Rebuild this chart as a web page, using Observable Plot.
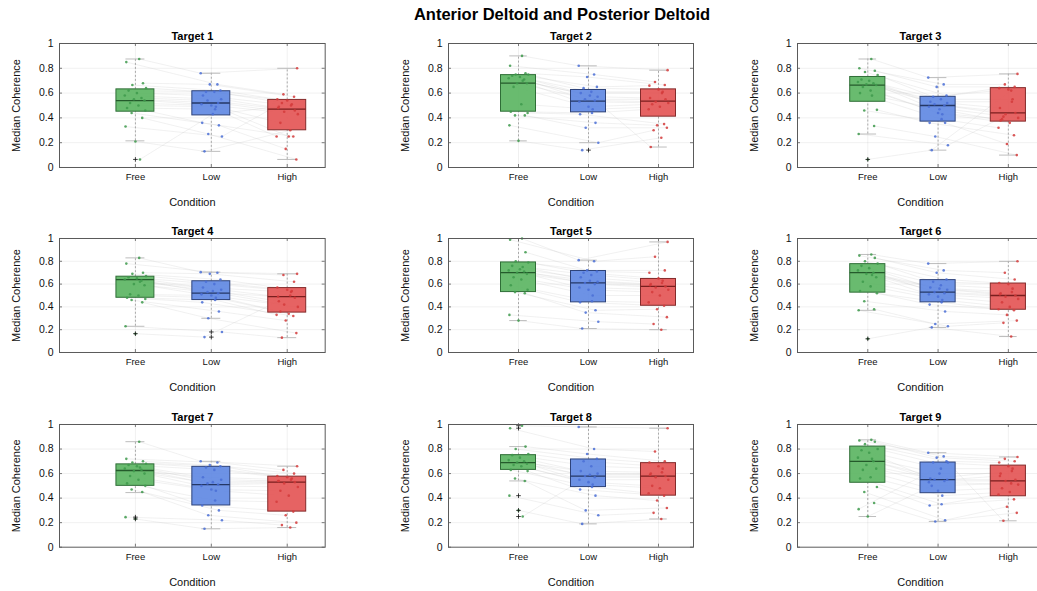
<!DOCTYPE html>
<html><head><meta charset="utf-8">
<script src="https://cdn.jsdelivr.net/npm/d3@7"></script>
<script src="https://cdn.jsdelivr.net/npm/@observablehq/plot@0.6"></script>
<style>
html,body{margin:0;padding:0;background:#fff;overflow:hidden}
#fig{position:relative;width:1037px;height:591px;overflow:hidden;background:#fff;font-family:"Liberation Sans",Arial,Helvetica,sans-serif}
#title{position:absolute;top:5px;left:562px;transform:translateX(-50%);font-weight:bold;font-size:16.5px;white-space:nowrap;color:#000}
#fig svg{position:absolute}
</style></head><body>
<div id="fig"><div id="title">Anterior Deltoid and Posterior Deltoid</div></div>
<script>
const conditions = ["Free", "Low", "High"];
const targets = ["Target 1","Target 2","Target 3","Target 4","Target 5","Target 6","Target 7","Target 8","Target 9"];
const yTicks = [0, 0.2, 0.4, 0.6, 0.8, 1];

// per-subject median coherence (20 subjects), one row per target
const freeValues = [
  [0.875,0.85,0.68,0.665,0.64,0.62,0.60,0.58,0.56,0.55,0.54,0.52,0.50,0.48,0.46,0.44,0.40,0.33,0.21,0.065],
  [0.90,0.82,0.76,0.75,0.75,0.74,0.73,0.72,0.71,0.68,0.68,0.65,0.51,0.45,0.44,0.42,0.42,0.34,0.215,0.70],
  [0.875,0.80,0.78,0.77,0.745,0.71,0.70,0.69,0.68,0.67,0.665,0.65,0.62,0.60,0.465,0.46,0.335,0.27,0.065,0.58],
  [0.83,0.78,0.70,0.69,0.67,0.66,0.65,0.64,0.63,0.60,0.59,0.51,0.50,0.48,0.47,0.46,0.44,0.23,0.165,0.62],
  [1.0,0.99,0.88,0.80,0.79,0.76,0.73,0.72,0.71,0.70,0.69,0.66,0.64,0.59,0.55,0.53,0.52,0.33,0.28,0.75],
  [0.86,0.85,0.83,0.80,0.78,0.76,0.74,0.72,0.70,0.69,0.66,0.62,0.58,0.54,0.52,0.45,0.38,0.37,0.12,0.68],
  [0.86,0.72,0.70,0.69,0.68,0.67,0.66,0.64,0.63,0.62,0.60,0.58,0.55,0.52,0.50,0.47,0.45,0.245,0.23,0.65],
  [0.99,0.97,0.82,0.80,0.76,0.75,0.73,0.71,0.70,0.69,0.68,0.67,0.66,0.63,0.62,0.56,0.54,0.42,0.30,0.25],
  [0.875,0.87,0.86,0.84,0.80,0.79,0.77,0.73,0.70,0.67,0.64,0.63,0.57,0.56,0.49,0.45,0.36,0.31,0.25,0.72]
];
const lowValues = [
  [0.76,0.67,0.67,0.62,0.61,0.61,0.58,0.55,0.54,0.52,0.51,0.50,0.49,0.47,0.36,0.34,0.27,0.25,0.13,0.43],
  [0.82,0.75,0.73,0.65,0.64,0.61,0.60,0.57,0.55,0.54,0.53,0.49,0.47,0.44,0.43,0.36,0.32,0.20,0.14,0.58],
  [0.725,0.67,0.65,0.58,0.57,0.55,0.53,0.52,0.51,0.50,0.49,0.44,0.43,0.39,0.36,0.36,0.25,0.18,0.14,0.47],
  [0.705,0.70,0.69,0.64,0.62,0.60,0.57,0.55,0.53,0.52,0.51,0.50,0.48,0.46,0.44,0.36,0.30,0.18,0.135,0.54],
  [0.81,0.80,0.72,0.71,0.70,0.68,0.66,0.62,0.61,0.60,0.57,0.55,0.50,0.45,0.44,0.37,0.35,0.27,0.21,0.63],
  [0.78,0.72,0.70,0.64,0.62,0.59,0.57,0.55,0.53,0.52,0.51,0.49,0.46,0.44,0.42,0.36,0.25,0.23,0.22,0.56],
  [0.70,0.69,0.67,0.66,0.65,0.63,0.57,0.55,0.52,0.51,0.50,0.47,0.46,0.38,0.34,0.30,0.26,0.22,0.15,0.53],
  [0.98,0.80,0.76,0.72,0.70,0.66,0.62,0.60,0.58,0.57,0.55,0.53,0.51,0.49,0.47,0.42,0.30,0.26,0.19,0.59],
  [0.77,0.74,0.73,0.70,0.69,0.64,0.56,0.55,0.55,0.54,0.53,0.46,0.42,0.35,0.34,0.22,0.21,0.69,0.50,0.60]
];
const highValues = [
  [0.80,0.59,0.57,0.55,0.54,0.51,0.50,0.48,0.46,0.45,0.43,0.36,0.25,0.25,0.25,0.15,0.065,0.52,0.30,0.49],
  [0.785,0.69,0.665,0.66,0.63,0.61,0.60,0.56,0.55,0.53,0.52,0.51,0.49,0.47,0.35,0.34,0.32,0.30,0.24,0.165],
  [0.755,0.67,0.65,0.64,0.63,0.55,0.53,0.48,0.44,0.43,0.40,0.39,0.36,0.32,0.26,0.19,0.10,0.41,0.62,0.38],
  [0.69,0.68,0.62,0.57,0.55,0.54,0.53,0.49,0.48,0.42,0.40,0.36,0.34,0.33,0.32,0.28,0.17,0.13,0.50,0.45],
  [0.97,0.84,0.72,0.70,0.65,0.63,0.61,0.59,0.58,0.57,0.55,0.53,0.50,0.44,0.41,0.38,0.31,0.25,0.20,0.60],
  [0.80,0.70,0.64,0.61,0.60,0.56,0.53,0.51,0.50,0.49,0.47,0.44,0.40,0.38,0.37,0.33,0.28,0.26,0.14,0.52],
  [0.66,0.63,0.60,0.58,0.57,0.56,0.55,0.54,0.53,0.52,0.49,0.46,0.42,0.37,0.29,0.26,0.20,0.18,0.16,0.54],
  [0.97,0.78,0.70,0.69,0.66,0.64,0.61,0.59,0.58,0.57,0.55,0.50,0.48,0.44,0.42,0.38,0.32,0.28,0.23,0.60],
  [0.735,0.72,0.70,0.69,0.66,0.64,0.62,0.58,0.55,0.54,0.51,0.48,0.45,0.43,0.39,0.33,0.28,0.215,0.52,0.60]
];

// box summaries: [lower whisker, Q1, median, Q3, upper whisker]
const freeBox = [
  [0.215,0.45,0.54,0.63,0.875],[0.215,0.45,0.68,0.745,0.90],[0.27,0.53,0.665,0.73,0.875],
  [0.23,0.48,0.64,0.665,0.83],[0.28,0.53,0.70,0.79,1.0],[0.37,0.525,0.70,0.775,0.86],
  [0.445,0.50,0.625,0.675,0.86],[0.54,0.63,0.69,0.75,0.82],[0.25,0.525,0.70,0.82,0.875]
];
const lowBox = [
  [0.13,0.42,0.52,0.615,0.76],[0.20,0.445,0.535,0.625,0.82],[0.14,0.37,0.50,0.57,0.725],
  [0.30,0.46,0.52,0.625,0.705],[0.21,0.44,0.61,0.715,0.81],[0.22,0.44,0.53,0.635,0.78],
  [0.15,0.34,0.51,0.655,0.70],[0.19,0.49,0.58,0.715,0.98],[0.21,0.44,0.55,0.69,0.77]
];
const highBox = [
  [0.065,0.30,0.47,0.545,0.80],[0.165,0.41,0.535,0.63,0.785],[0.10,0.37,0.44,0.64,0.755],
  [0.13,0.35,0.49,0.565,0.69],[0.20,0.41,0.58,0.645,0.97],[0.14,0.375,0.50,0.605,0.80],
  [0.16,0.29,0.53,0.575,0.66],[0.23,0.42,0.58,0.685,0.97],[0.215,0.415,0.54,0.665,0.735]
];
const freeOutliers = [[0.065],[],[0.065],[0.165],[],[0.12],[0.245,0.23],[0.99,0.97,0.42,0.30,0.25],[]];
const lowOutliers  = [[],[0.14],[],[0.18,0.135],[],[],[],[],[]];
const highOutliers = [[],[],[],[],[],[],[],[],[]];

// horizontal scatter offsets of the subjects' dots
const jitter = [0.05,-0.12,0.10,-0.04,0.14,-0.09,0.02,-0.14,0.08,-0.02,0.12,-0.07,0.04,-0.11,0.13,-0.05,0.09,-0.13,0.0,0.06];

// styling
const boxFill = ["#5cb563", "#6189e3", "#e45656"];
const boxEdge = ["#2f6e37", "#2e437a", "#842b2b"];
const medCol  = ["#245a2b", "#243766", "#7a1e1e"];
const dotCol  = ["#3e9a4c", "#4a6fd6", "#d43b3b"];

// layout of the axes frames (pixels)
const colLeft = [59.3, 448, 797], colRight = [325, 693, 1043];
const rowTop = [42.7, 238, 424], rowBottom = [166.7, 352, 546.7];

const fig = document.getElementById("fig");
const font = '"Liberation Sans", Arial, Helvetica, sans-serif';

for (let k = 0; k < 9; k++) {
  const col = k % 3, row = Math.floor(k / 3);
  const L = colLeft[col], R = colRight[col], T = rowTop[row], B = rowBottom[row];
  const mL = 55, mR = 5, mT = 22, mB = 48;
  const width = R - L + mL + mR, height = B - T + mT + mB;
  const pxX = (R - L) / 3.5, pxY = (B - T);
  const vals = [freeValues[k], lowValues[k], highValues[k]];
  const stats = [freeBox[k], lowBox[k], highBox[k]];
  const outs = [freeOutliers[k], lowOutliers[k], highOutliers[k]];
  const pts = [];
  vals.forEach((arr, c) => arr.forEach((v, i) =>
    pts.push({subject: i, c, x: c + 1 + jitter[(i + 7 * c) % jitter.length], y: v})));
  const boxes = stats.map((s, c) => ({c, x: c + 1, lo: s[0], q1: s[1], med: s[2], q3: s[3], hi: s[4]}));
  const outPts = [];
  outs.forEach((arr, c) => arr.forEach(v => outPts.push({x: c + 1, y: v})));
  const tlx = 3 / pxX, tly = 3 / pxY;

  const perCond = [];
  for (let c = 0; c < 3; c++) {
    const b = boxes.filter(d => d.c === c);
    perCond.push(
      Plot.rect(b, {x1: d => d.x - 0.25, x2: d => d.x + 0.25, y1: "q1", y2: "q3",
        fill: boxFill[c], fillOpacity: 0.92, stroke: boxEdge[c], strokeWidth: 1}),
      Plot.ruleY(b, {y: "med", x1: d => d.x - 0.25, x2: d => d.x + 0.25, stroke: medCol[c], strokeWidth: 1.3})
    );
  }
  const dotsPerCond = [];
  for (let c = 0; c < 3; c++) {
    dotsPerCond.push(Plot.dot(pts.filter(d => d.c === c), {x: "x", y: "y", r: 1.3, fill: dotCol[c], fillOpacity: 0.85, stroke: "none"}));
  }

  const svg = Plot.plot({
    width, height, marginLeft: mL, marginRight: mR, marginTop: mT, marginBottom: mB,
    style: {fontFamily: font, fontSize: "9.5px", color: "#262626", background: "transparent", overflow: "visible"},
    x: {type: "linear", domain: [0, 3.5], label: null},
    y: {domain: [0, 1], label: null},
    marks: [
      Plot.ruleY(yTicks.slice(1, -1), {stroke: "#000", strokeOpacity: 0.08, strokeWidth: 0.8}),
      Plot.ruleX([1, 2, 3], {stroke: "#000", strokeOpacity: 0.08, strokeWidth: 0.8}),
      Plot.line(pts, {x: "x", y: "y", z: "subject", stroke: "#c4c4c4", strokeOpacity: 0.4, strokeWidth: 0.6}),
      Plot.ruleX(boxes, {x: "x", y1: "lo", y2: "q1", stroke: "#8a8a8a", strokeDasharray: "2,2", strokeWidth: 0.7}),
      Plot.ruleX(boxes, {x: "x", y1: "q3", y2: "hi", stroke: "#8a8a8a", strokeDasharray: "2,2", strokeWidth: 0.7}),
      Plot.ruleY(boxes, {y: "lo", x1: d => d.x - 0.125, x2: d => d.x + 0.125, stroke: "#b5b5b5", strokeWidth: 0.9}),
      Plot.ruleY(boxes, {y: "hi", x1: d => d.x - 0.125, x2: d => d.x + 0.125, stroke: "#b5b5b5", strokeWidth: 0.9}),
      ...perCond,
      ...dotsPerCond,
      Plot.dot(outPts, {x: "x", y: "y", symbol: "plus", r: 1.6, stroke: "#111", strokeWidth: 0.8}),
      Plot.frame({stroke: "#5a5a5a", strokeWidth: 1}),
      Plot.ruleY(yTicks, {x1: 0, x2: tlx, stroke: "#5a5a5a", strokeWidth: 0.8}),
      Plot.ruleY(yTicks, {x1: 3.5 - tlx, x2: 3.5, stroke: "#5a5a5a", strokeWidth: 0.8}),
      Plot.ruleX([1, 2, 3], {y1: 0, y2: tly, stroke: "#5a5a5a", strokeWidth: 0.8}),
      Plot.ruleX([1, 2, 3], {y1: 1 - tly, y2: 1, stroke: "#5a5a5a", strokeWidth: 0.8}),
      Plot.axisX([1, 2, 3], {tickSize: 0, tickPadding: 6, tickFormat: d => conditions[d - 1], label: null, fill: "#111"}),
      Plot.axisY(yTicks, {tickSize: 0, tickPadding: 6, tickFormat: d => String(+d.toFixed(1)), label: null, fill: "#111", fontSize: 10.5}),
      Plot.text([targets[k]], {frameAnchor: "top", lineAnchor: "middle", dy: -7, fontWeight: "bold", fontSize: 11, fill: "#000"}),
      Plot.text(["Median Coherence"], {frameAnchor: "left", textAnchor: "middle", lineAnchor: "middle", dx: -42.6, rotate: -90, fontSize: 11, fill: "#111"}),
      Plot.text(["Condition"], {frameAnchor: "bottom", lineAnchor: "middle", dy: 35, fontSize: 11, fill: "#111"})
    ]
  });
  svg.style.left = (L - mL) + "px";
  svg.style.top = (T - mT) + "px";
  fig.appendChild(svg);
}
</script>
</body></html>
